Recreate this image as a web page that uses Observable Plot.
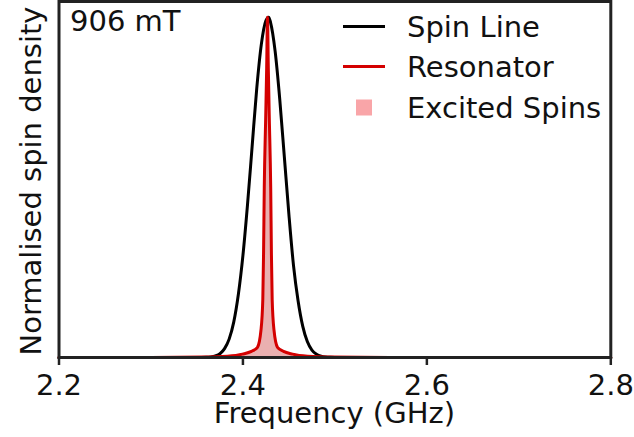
<!DOCTYPE html>
<html>
<head>
<meta charset="utf-8">
<script src="https://cdn.jsdelivr.net/npm/d3@7"></script>
<script src="https://cdn.jsdelivr.net/npm/@observablehq/plot@0.6"></script>
<style>
  html, body { margin: 0; padding: 0; background: white; }
  #chart { width: 634px; height: 437px; }
</style>
</head>
<body>
<div id="chart"></div>
<script>
// Spin line (black)
const spinFreq = [2.2, 2.35, 2.36, 2.365, 2.37, 2.375, 2.38, 2.385, 2.39, 2.395, 2.40, 2.405, 2.41, 2.415, 2.42, 2.425, 2.428, 2.43, 2.435, 2.44, 2.445, 2.45, 2.455, 2.46, 2.465, 2.47, 2.475, 2.48, 2.485, 2.49, 2.495, 2.50, 2.8];
const spinVal  = [0, 0, 0.0006, 0.0018, 0.0047, 0.011, 0.026, 0.054, 0.104, 0.185, 0.30, 0.45, 0.62, 0.79, 0.92, 0.99, 1.0, 0.985, 0.90, 0.76, 0.59, 0.42, 0.27, 0.166, 0.092, 0.047, 0.022, 0.0097, 0.0039, 0.0014, 0.0004, 0, 0];

// Resonator (red) and excited spins (filled)
const resFreq = [2.2, 2.30, 2.356, 2.3832, 2.3995, 2.4093, 2.4158, 2.4196, 2.4216, 2.4224, 2.4232, 2.4247, 2.4258, 2.4267, 2.4276, 2.4287, 2.4302, 2.431, 2.4318, 2.4338, 2.4376, 2.4441, 2.4539, 2.4702, 2.4974, 2.56, 2.8];
const resVal  = [0, 0.0002, 0.0012, 0.004, 0.01, 0.018, 0.03, 0.08, 0.17, 0.3, 0.5, 0.7, 0.85, 1.0, 0.85, 0.7, 0.5, 0.3, 0.17, 0.08, 0.03, 0.018, 0.01, 0.004, 0.0012, 0.0002, 0];

const xTicks = [2.2, 2.4, 2.6, 2.8];
const xLabel = "Frequency (GHz)";
const yLabel = "Normalised spin density";
const fieldLabel = "906 mT";
const legendLabels = ["Spin Line", "Resonator", "Excited Spins"];

const spin = spinFreq.map((f, i) => ({f, v: spinVal[i]}));
const res = resFreq.map((f, i) => ({f, v: resVal[i]}));

const W = 634, H = 437;
const mL = 58.5, mR = 23.7, mT = 1, mB = 80;
const font = "DejaVu Sans";
const fs = 29;

const plot = Plot.plot({
  width: W,
  height: H,
  marginLeft: mL,
  marginRight: mR,
  marginTop: mT,
  marginBottom: mB,
  style: {fontFamily: font, fontSize: fs + "px", background: "white", color: "#111", overflow: "visible"},
  x: {domain: [2.2, 2.8]},
  y: {domain: [0, 1.046]},
  marks: [
    Plot.areaY(res, {x: "f", y: "v", fill: "#eab0b0", curve: "monotone-x"}),
    Plot.line(spin, {x: "f", y: "v", stroke: "black", strokeWidth: 3, curve: "monotone-x"}),
    Plot.line(res, {x: "f", y: "v", stroke: "#d40000", strokeWidth: 3, curve: "monotone-x"}),
    Plot.frame({stroke: "#222", strokeWidth: 3}),
    Plot.axisX({ticks: xTicks, tickFormat: d => d.toFixed(1), tickSize: 8, tickPadding: 9, strokeWidth: 2.5, stroke: "#222", fontSize: fs, label: null, fill: "#111"}),
    Plot.axisY({ticks: [], label: null})
  ]
});

document.getElementById("chart").appendChild(plot);

const svg = d3.select(plot);
// axis labels
svg.append("text").attr("x", (mL + (W - mR)) / 2).attr("y", 423)
  .attr("text-anchor", "middle").attr("font-family", font).attr("font-size", fs).attr("fill", "#111")
  .text(xLabel);
svg.append("text").attr("transform", `translate(41,${(mT + (H - mB)) / 2 + 2}) rotate(-90)`)
  .attr("text-anchor", "middle").attr("font-family", font).attr("font-size", fs).attr("fill", "#111")
  .text(yLabel);
// field annotation
svg.append("text").attr("x", 70).attr("y", 31).attr("text-anchor", "start")
  .attr("font-family", font).attr("font-size", fs).attr("fill", "#111")
  .text(fieldLabel);
// legend
const lg = svg.append("g");
const rows = [26.5, 66.5, 107.5];
lg.append("line").attr("x1", 343).attr("x2", 385).attr("y1", rows[0]).attr("y2", rows[0]).attr("stroke", "black").attr("stroke-width", 3);
lg.append("line").attr("x1", 343).attr("x2", 385).attr("y1", rows[1]).attr("y2", rows[1]).attr("stroke", "#d40000").attr("stroke-width", 3);
lg.append("rect").attr("x", 356).attr("y", rows[2] - 8).attr("width", 16).attr("height", 16).attr("fill", "#f9a5a8");
legendLabels.forEach((t, i) => {
  lg.append("text").attr("x", 407).attr("y", rows[i] + 10).attr("text-anchor", "start")
    .attr("font-family", font).attr("font-size", fs).attr("fill", "#111").text(t);
});
</script>
</body>
</html>
